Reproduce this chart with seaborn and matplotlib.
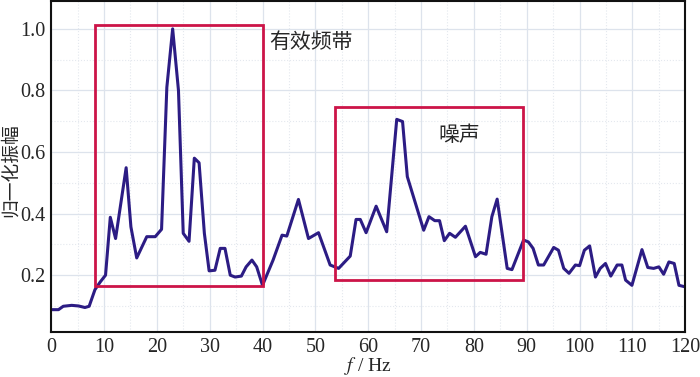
import numpy as np
import pandas as pd
import matplotlib
matplotlib.use("Agg")
import matplotlib.pyplot as plt
from matplotlib.patches import Rectangle
from matplotlib.ticker import MultipleLocator
import seaborn as sns

# frecuencias (Hz) y amplitud normalizada
freq = [0, 1.4, 2.3, 3.9, 5.2, 6.4, 7.2, 8.3, 9.3, 10.3, 11.2, 12.2, 14.2, 15.1,
        16.2, 18.1, 19.7, 20.9, 21.9, 23.0, 24.1, 25.0, 26.1, 27.1, 28.0, 29.0,
        29.9, 31.0, 32.0, 32.9, 33.9, 34.8, 36.0, 36.9, 38.0, 38.9, 40.0, 42.0,
        43.7, 44.6, 46.8, 48.7, 50.6, 52.8, 54.4, 56.6, 57.7, 58.5, 59.6, 61.5,
        63.5, 65.4, 66.5, 67.4, 70.5, 71.5, 72.6, 73.5, 74.4, 75.4, 76.5, 78.4,
        80.3, 81.2, 82.3, 83.4, 84.4, 86.3, 87.2, 89.4, 90.3, 91.2, 92.2, 93.2,
        95.1, 96.0, 97.0, 98.0, 99.2, 100.0, 100.9, 101.9, 103.0, 103.9, 104.9,
        105.9, 107.1, 108.0, 108.7, 109.9, 111.8, 112.9, 114.0, 115.0, 115.9,
        116.9, 117.9, 118.8, 120.0]
amp = [0.088, 0.088, 0.099, 0.102, 0.100, 0.095, 0.099, 0.153, 0.178, 0.200,
       0.388, 0.319, 0.549, 0.357, 0.256, 0.325, 0.325, 0.349, 0.810, 1.000,
       0.800, 0.336, 0.310, 0.580, 0.565, 0.336, 0.214, 0.216, 0.287, 0.287,
       0.200, 0.194, 0.197, 0.227, 0.249, 0.227, 0.167, 0.249, 0.330, 0.327,
       0.446, 0.319, 0.338, 0.233, 0.222, 0.262, 0.381, 0.381, 0.338, 0.424,
       0.341, 0.706, 0.699, 0.520, 0.346, 0.390, 0.377, 0.377, 0.312, 0.336,
       0.323, 0.359, 0.260, 0.274, 0.268, 0.390, 0.447, 0.222, 0.218, 0.314,
       0.308, 0.287, 0.233, 0.233, 0.290, 0.281, 0.222, 0.206, 0.233, 0.231,
       0.281, 0.295, 0.194, 0.222, 0.238, 0.197, 0.233, 0.233, 0.184, 0.167,
       0.283, 0.225, 0.222, 0.227, 0.203, 0.243, 0.238, 0.167, 0.162]

# cajas: (f inicio, f fin, amp inferior, amp superior)
caja_util = (8.3, 40.1, 0.164, 1.013)
caja_ruido = (53.75, 89.3, 0.184, 0.746)
etiquetas = ["有效频带", "噪声"]

df = pd.DataFrame({"f": freq, "amp": amp})

sns.set_style("white")
plt.rcParams["font.family"] = ["Liberation Serif", "Noto Sans CJK SC"]
plt.rcParams["mathtext.fontset"] = "stix"

fig = plt.figure(figsize=(7, 3.77), dpi=100)
ax = fig.add_axes([0.073, 0.119, 0.906, 0.878])

sns.lineplot(data=df, x="f", y="amp", ax=ax, color="#2c1c84", linewidth=2.2)

for (x0, x1, y0, y1) in [caja_util, caja_ruido]:
    ax.add_patch(Rectangle((x0, y0), x1 - x0, y1 - y0, fill=False,
                           edgecolor="#cc1448", linewidth=2, zorder=3))

ax.text(41.2, 0.958, etiquetas[0], fontsize=15, va="center", ha="left",
        family=["Noto Sans CJK SC"], fontweight="light")
ax.text(77.3, 0.655, etiquetas[1], fontsize=15, va="center", ha="center",
        family=["Noto Sans CJK SC"], fontweight="light")

ax.set_xlim(0, 120)
ax.set_ylim(0.015, 1.09)
ax.xaxis.set_major_locator(MultipleLocator(10))
ax.xaxis.set_minor_locator(MultipleLocator(5))
ax.set_yticks([0.2, 0.4, 0.6, 0.8, 1.0])
ax.yaxis.set_minor_locator(MultipleLocator(0.1))
ax.grid(which="major", color="#dde3ec", linewidth=0.9)
ax.grid(which="minor", color="#e4e8ee", linewidth=0.8, linestyle=":")
ax.tick_params(axis="both", labelsize=14.5, length=0, pad=4)

ax.set_xlabel("$f$ / Hz", fontsize=14)
ax.set_ylabel("归一化振幅", fontsize=13.5, family=["Noto Sans CJK SC"],
              fontweight="light")
ax.xaxis.set_label_coords(0.5, -0.07)
ax.yaxis.set_label_coords(-0.047, 0.49)

for s in ax.spines.values():
    s.set_color("#111111")
    s.set_linewidth(1.5)

fig.savefig("out.png", dpi=100)
